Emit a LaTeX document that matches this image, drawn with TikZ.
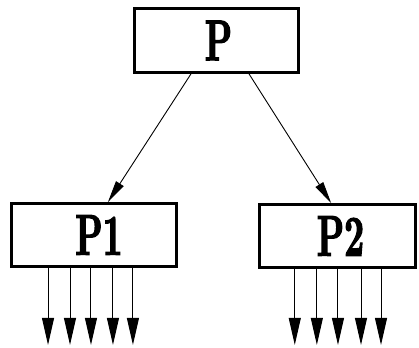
\documentclass[tikz,border=0pt]{standalone}
\usepackage{fontspec}
\newfontfamily\pfont{lmroman10-bold.otf}[FakeStretch=0.6,FakeBold=2]
\usetikzlibrary{arrows.meta,calc}
\tikzset{
  procbox/.style={draw, line width=2.8bp, rectangle, inner sep=0pt, anchor=center,
    font=\fontsize{58}{58}\selectfont\pfont},
  toparrow/.style={line width=0.9bp, -{Triangle[length=22bp,width=9bp]}},
  outarrow/.style={line width=1bp, -{Triangle[length=27bp,width=12bp]}}
}
\begin{document}
\begin{tikzpicture}[x=1bp,y=-1bp]
\useasboundingbox (0,0) rectangle (419,348);
\node[procbox, minimum width=164bp, minimum height=64bp] (P) at (216.5,40.5) {\hspace*{4bp}P};
\node[procbox, minimum width=165bp, minimum height=63bp] (P1) at (94,235) {\hspace*{10bp}P1};
\node[procbox, minimum width=156bp, minimum height=63bp] (P2) at (337.5,236) {\hspace*{6bp}P2};
\draw[toparrow] ($(P.south west)!0.347!(P.south east)$) -- ($(P1.north west)!0.583!(P1.north east)$);
\draw[toparrow] ($(P.south west)!0.695!(P.south east)$) -- ($(P2.north west)!0.46!(P2.north east)$);
\foreach \f in {0.226,0.357,0.482,0.613,0.732}{
  \draw[outarrow] ($(P1.south west)!\f!(P1.south east)$) -- ++(0,77);
}
\foreach \f in {0.231,0.37,0.503,0.648,0.774}{
  \draw[outarrow] ($(P2.south west)!\f!(P2.south east)$) -- ++(0,76);
}
\end{tikzpicture}
\end{document}
